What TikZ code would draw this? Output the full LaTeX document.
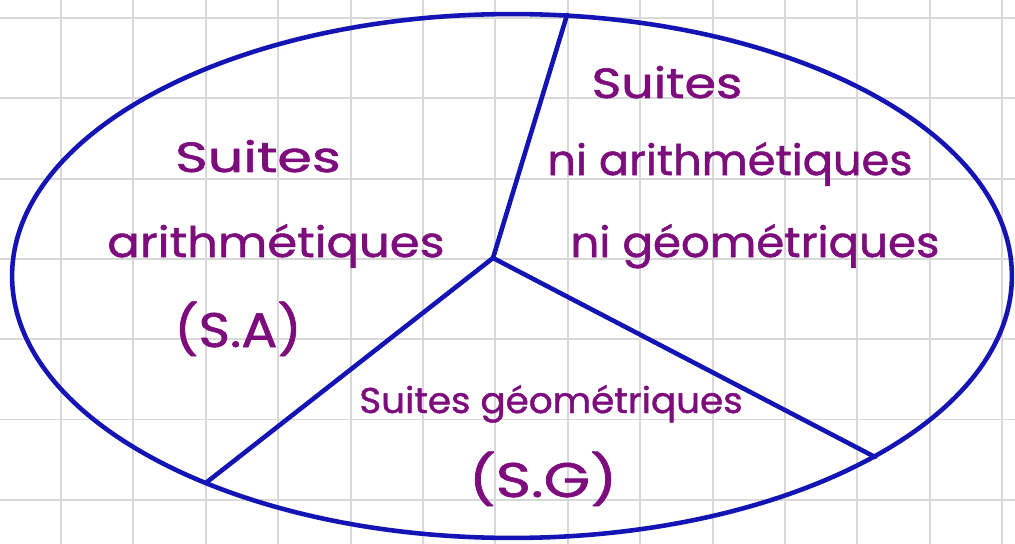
\documentclass[tikz,border=0pt]{standalone}
\usepackage{fontspec}
\setmainfont{Poppins}[FakeBold=1.2]
\usepackage{tikz}
\usetikzlibrary{calc}
\definecolor{suiteblue}{HTML}{1414B4}
\definecolor{suiteink}{HTML}{7D0C7D}
\definecolor{suitegrid}{HTML}{D8D8D8}

\begin{document}
\begin{tikzpicture}[x=0.02cm,y=-0.02cm,line cap=round,line join=round,
  font=\fontsize{24}{28}\selectfont,text=suiteink,
  hand/.style={anchor=base,inner sep=0pt},
  bord/.style={suiteblue,line width=2.6pt},
  quad/.style={suitegrid,line width=1.1pt}]
\path[use as bounding box] (0,0) rectangle (1015,544);
\fill[white] (0,0) rectangle (1015,544);
% quadrillage : pas de 72,4 px en largeur, 80,3 px en hauteur
\foreach \i in {0,...,14} \draw[quad] (-11.4+72.4*\i,0)--(-11.4+72.4*\i,544);
\foreach \j in {0,...,6} \draw[quad] (0,18+80.3*\j)--(1015,18+80.3*\j);

% ellipse partagee en trois regions depuis le point o
\coordinate (o) at (493,258);
\coordinate (haut) at (567,15);
\coordinate (gauche) at (207,482);
\coordinate (droite) at (875,457);
\draw[bord] (512,276) ellipse [x radius=10cm,y radius=5.24cm];
\draw[bord] (o)--(haut);
\draw[bord] (o)--(gauche);
\draw[bord] (o)--(droite);

% region de gauche
\node[hand,xscale=1.32] (saA) at (258,172) {Suites};
\node[hand,xscale=1.14] (saB) at (276,257) {arithmétiques};
\node[hand,xscale=1.27,yscale=1.15] (saC) at (238,347) {(S.A)};
% region de droite
\node[hand,xscale=1.2] (niA) at (667,98) {Suites};
\node[hand,xscale=1.06] (niB) at (730,175) {ni arithmétiques};
\node[hand,xscale=1.07] (niC) at (755,257) {ni géométriques};
% region du bas
\node[hand,xscale=.885,yscale=.85] (sgA) at (551,413) {Suites géométriques};
\node[hand,xscale=1.42,yscale=1.15] (sgB) at (543,497) {(S.G)};
\end{tikzpicture}
\end{document}
